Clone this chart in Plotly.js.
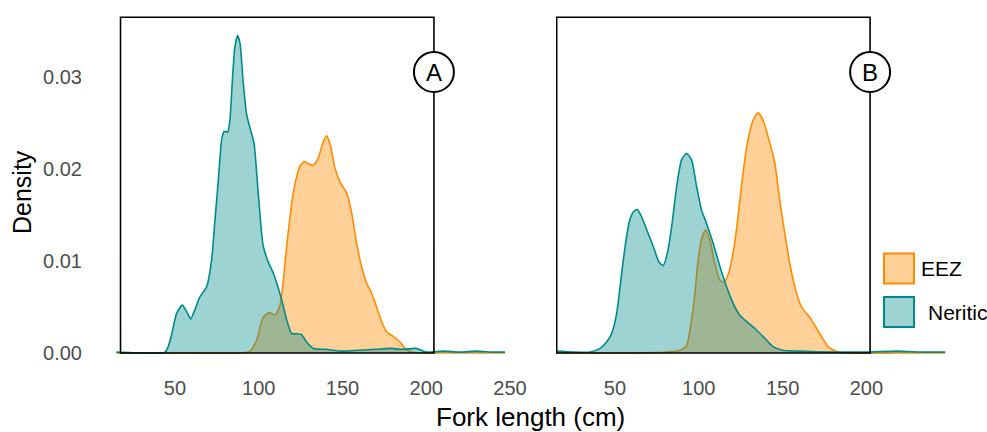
<!DOCTYPE html>
<html>
<head>
<meta charset="utf-8">
<script src="https://cdn.plot.ly/plotly-3.0.1.min.js"></script>
<style>html,body{margin:0;padding:0;background:#fff;}#chart{width:987px;height:432px;}</style>
</head>
<body>
<div id="chart"></div>
<script>
// ---- Data ----
var seriesNames = ["EEZ", "Neritic"];
var panelLabels = ["A", "B"];
var xTicksA = [50, 100, 150, 200, 250];
var xTicksB = [50, 100, 150, 200];
var yTicks = [0, 0.01, 0.02, 0.03];
var yTickText = ["0.00", "0.01", "0.02", "0.03"];

// Panel A
var eezA_x = [15, 60, 90, 94.8, 98.8, 102.7, 106.7, 109.7, 112.7, 114.7, 116.7, 118.7, 120.6, 122.7, 124.6, 127.2, 129.6, 132.6, 135.6, 138.2, 140.6, 143, 145.5, 148.5, 152.5, 155.5, 158.5, 161.4, 164.4, 167.4, 170.4, 173.4, 176.4, 180.3, 184.3, 187.3, 191.3, 200, 220, 247];
var eezA_y = [0, 0, 0, 0.0002, 0.0014, 0.0039, 0.0044, 0.0041, 0.0052, 0.0079, 0.0116, 0.0148, 0.0174, 0.0192, 0.0203, 0.0208, 0.0206, 0.0204, 0.0212, 0.0228, 0.0236, 0.0224, 0.0201, 0.0186, 0.0174, 0.0152, 0.0119, 0.0094, 0.0076, 0.0065, 0.0050, 0.0034, 0.0023, 0.0018, 0.0012, 0.0005, 0.0001, 0, 0, 0];

var nerA_x = [15, 30, 40, 44, 46, 48, 51, 54.4, 57, 59.4, 61.9, 64.9, 68.9, 71.9, 73.9, 75.9, 77.9, 79.5, 81.4, 82.8, 84.4, 85.8, 87.4, 88.8, 90.8, 92.8, 95.2, 97.2, 99.7, 102.7, 105.7, 108.7, 113.7, 116.7, 119.7, 122.6, 125.6, 128.6, 132.6, 140, 150, 160, 170, 178, 186, 194, 200, 210, 220, 230, 240, 247];
var nerA_y = [0.0001, 0, 0, 0.0001, 0.0007, 0.0020, 0.0043, 0.0052, 0.0045, 0.0037, 0.0047, 0.0061, 0.0072, 0.0101, 0.0145, 0.0188, 0.0232, 0.0241, 0.0240, 0.0253, 0.0300, 0.0333, 0.0345, 0.0337, 0.0293, 0.0259, 0.0242, 0.0228, 0.0174, 0.0116, 0.0099, 0.0087, 0.0058, 0.0036, 0.0021, 0.0021, 0.0020, 0.0012, 0.0005, 0.0004, 0.0002, 0.0003, 0.0004, 0.0005, 0.0004, 0.0005, 0.0001, 0.0002, 0.0001, 0.0002, 0.0001, 0.0001];

// Panel B
var eezB_x = [15, 60, 80.8, 88.7, 92.7, 95.7, 97.7, 99.6, 102, 104.2, 106.6, 109.6, 112.6, 115, 117.5, 120.1, 122.5, 124.5, 126.9, 129.4, 132.4, 135.4, 138.4, 142.4, 145.4, 148.3, 151.3, 154.3, 157.3, 160.3, 163.2, 166.2, 169.2, 173.2, 177.1, 182.1, 190, 220, 247];
var eezB_y = [0, 0, 0.0001, 0.0003, 0.0008, 0.0036, 0.0065, 0.0101, 0.0126, 0.0134, 0.0123, 0.0097, 0.0079, 0.0077, 0.0085, 0.0105, 0.0134, 0.0166, 0.0203, 0.0232, 0.0253, 0.0261, 0.0253, 0.0228, 0.0206, 0.0166, 0.0130, 0.0097, 0.0072, 0.0054, 0.0045, 0.0039, 0.0030, 0.0018, 0.0007, 0.0002, 0, 0, 0];

var nerB_x = [15, 25.2, 35.1, 41.1, 45, 48, 51, 54, 56.6, 58.9, 61.3, 63.3, 65.9, 68.9, 72.8, 76.2, 78.8, 81.2, 83.8, 86.8, 89.7, 92.7, 95.7, 98.7, 101.7, 104.6, 108.6, 112.6, 116.6, 120.5, 124.5, 129.4, 134.4, 139.4, 144.3, 150.3, 160.3, 180, 200, 218, 235, 247];
var nerB_y = [0.0002, 0.0001, 0.0001, 0.0005, 0.0012, 0.0021, 0.0043, 0.0087, 0.0123, 0.0145, 0.0154, 0.0156, 0.0148, 0.0134, 0.0116, 0.0099, 0.0095, 0.0108, 0.0137, 0.0181, 0.0210, 0.0217, 0.0210, 0.0181, 0.0155, 0.0141, 0.0119, 0.0094, 0.0072, 0.0054, 0.0041, 0.0033, 0.0025, 0.0016, 0.0007, 0.0003, 0.0002, 0.0001, 0.0001, 0.0002, 0.0001, 0.0001];

// ---- Styling ----
var ORANGE = "#FF8C00", ORANGE_FILL = "rgba(255,140,0,0.4)";
var TEAL = "#008B8B", TEAL_FILL = "rgba(0,139,139,0.38)";
var FONT = "Liberation Sans, Arial, Helvetica, sans-serif";

// pixel geometry helpers
var W = 987, H = 432, ML = 116, MR = 41, MT = 16, MB = 60;
var PW = W - ML - MR, PH = H - MT - MB;
function px2paperX(p) { return (p - ML) / PW; }
function px2paperY(p) { return (H - MB - p) / PH; }

var Y0 = 353, PER = 9200; // pixel of y=0 and px per density unit
var yRange = [-(MT + PH - Y0) / PER, (Y0 - MT) / PER];

function dens(x, y, name, xa, ya, line, fill) {
  return {x: x, y: y, name: name, xaxis: xa, yaxis: ya, type: "scatter", mode: "lines",
    line: {color: line, width: 1.6, shape: "spline", smoothing: 0.6},
    fill: "tozeroy", fillcolor: fill, showlegend: false, hoverinfo: "x+y"};
}

var data = [
  dens(eezA_x, eezA_y, seriesNames[0], "x", "y", ORANGE, ORANGE_FILL),
  dens(nerA_x, nerA_y, seriesNames[1], "x", "y", TEAL, TEAL_FILL),
  dens(eezB_x, eezB_y, seriesNames[0], "x2", "y2", ORANGE, ORANGE_FILL),
  dens(nerB_x, nerB_y, seriesNames[1], "x2", "y2", TEAL, TEAL_FILL)
];

var tickFont = {family: FONT, size: 20, color: "#4D4D4D"};
function xaxisDef(domain, anchor, range, ticks) {
  return {domain: domain, anchor: anchor, range: range, tickvals: ticks, ticktext: ticks.map(String),
    showgrid: false, zeroline: false, showline: false, ticks: "", tickfont: tickFont, ticklabelstandoff: 2, fixedrange: true};
}

var frameTop = 0.0365;
var shapes = [
  {type: "rect", xref: "x", yref: "y", x0: 17.5, x1: 204.6, y0: 0, y1: frameTop, line: {color: "#000", width: 1.6}, fillcolor: "rgba(0,0,0,0)", layer: "above"},
  {type: "rect", xref: "x2", yref: "y2", x0: 15.2, x1: 202.2, y0: 0, y1: frameTop, line: {color: "#000", width: 1.6}, fillcolor: "rgba(0,0,0,0)", layer: "above"}
];
var circY = (Y0 - 72) / PER;
var annotations = [];
[["x", "y", 204.6], ["x2", "y2", 202.2]].forEach(function (p, i) {
  shapes.push({type: "circle", xref: p[0], yref: p[1], xsizemode: "pixel", ysizemode: "pixel",
    xanchor: p[2], yanchor: circY, x0: -20, x1: 20, y0: -20, y1: 20,
    line: {color: "#000", width: 2}, fillcolor: "#fff", layer: "above"});
  annotations.push({xref: p[0], yref: p[1], x: p[2], y: circY, text: panelLabels[i], showarrow: false,
    font: {family: FONT, size: 24, color: "#000"}, xanchor: "center", yanchor: "middle"});
});

// legend (drawn manually)
var legendItems = [
  {name: seriesNames[0], line: ORANGE, fill: ORANGE_FILL, top: 253.5, textX: 918.5, textY: 268},
  {name: seriesNames[1], line: TEAL, fill: TEAL_FILL, top: 297, textX: 925.5, textY: 312}
];
legendItems.forEach(function (it) {
  shapes.push({type: "rect", xref: "paper", yref: "paper",
    x0: px2paperX(884), x1: px2paperX(914), y0: px2paperY(it.top + 30), y1: px2paperY(it.top),
    line: {color: it.line, width: 2}, fillcolor: it.fill});
  annotations.push({xref: "paper", yref: "paper", x: px2paperX(it.textX), y: px2paperY(it.textY),
    text: it.name, showarrow: false, xanchor: "left", yanchor: "middle",
    font: {family: FONT, size: 21, color: "#000"}});
});

// axis titles
annotations.push({xref: "paper", yref: "paper", x: px2paperX(530.5), y: px2paperY(417), text: "Fork length (cm)",
  showarrow: false, xanchor: "center", yanchor: "middle", font: {family: FONT, size: 26, color: "#000"}});
annotations.push({xref: "paper", yref: "paper", x: px2paperX(22), y: px2paperY(192), text: "Density",
  showarrow: false, textangle: -90, xanchor: "center", yanchor: "middle", font: {family: FONT, size: 25, color: "#000"}});

var layout = {
  width: W, height: H,
  margin: {l: ML, r: MR, t: MT, b: MB, pad: 0},
  paper_bgcolor: "#fff", plot_bgcolor: "#fff",
  showlegend: false,
  xaxis: xaxisDef([0, px2paperX(510.8)], "y", [14.8, 250.5], xTicksA),
  xaxis2: xaxisDef([px2paperX(556), 1], "y2", [14.8, 247.5], xTicksB),
  yaxis: {domain: [0, 1], anchor: "x", range: yRange, tickvals: yTicks, ticktext: yTickText,
    showgrid: false, zeroline: false, showline: false, ticks: "", tickfont: tickFont, ticklabelstandoff: 33, fixedrange: true},
  yaxis2: {domain: [0, 1], anchor: "x2", range: yRange, showticklabels: false,
    showgrid: false, zeroline: false, showline: false, ticks: "", fixedrange: true},
  shapes: shapes,
  annotations: annotations
};

Plotly.newPlot("chart", data, layout, {displayModeBar: false, staticPlot: true});
</script>
</body>
</html>
